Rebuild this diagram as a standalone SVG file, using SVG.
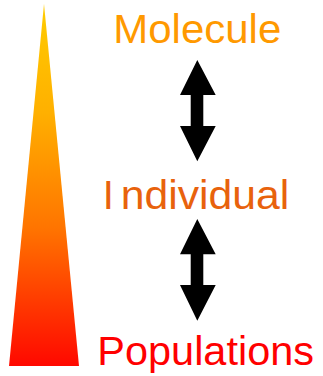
<svg xmlns="http://www.w3.org/2000/svg" width="323" height="376" viewBox="0 0 323 376">
<defs>
<linearGradient id="g" x1="0" y1="4" x2="0" y2="366" gradientUnits="userSpaceOnUse">
<stop offset="0" stop-color="#FFCC00"/>
<stop offset="0.3" stop-color="#FFB000"/>
<stop offset="0.62" stop-color="#FF7400"/>
<stop offset="1" stop-color="#FF0800"/>
</linearGradient>
<style>
.t{font-family:"Liberation Sans",Arial,sans-serif;font-size:40px}
.arr{fill:#000}
</style>
</defs>
<g id="scale">
<polygon points="44,4 79,366 9,366" fill="url(#g)"/>
</g>
<g id="molecule">
<text class="t" x="113.3" y="42.5" fill="#FF9900" textLength="168" lengthAdjust="spacingAndGlyphs">Molecule</text>
</g>
<g id="individual">
<text class="t" x="102.7" y="209.3" fill="#E8620C">I<tspan x="120.7" textLength="168.6" lengthAdjust="spacingAndGlyphs">ndividual</tspan></text>
</g>
<g id="populations">
<text class="t" x="97.3" y="365" fill="#FF0000" textLength="216.7" lengthAdjust="spacingAndGlyphs">Populations</text>
</g>
<g id="connectors">
<polygon class="arr" points="197.3,60 215.7,95 203.3,95 203.3,126 215.7,126 197.3,161.3 180,126 190.7,126 190.7,95 180,95"/>
<polygon class="arr" points="197.3,219 215.7,254.3 203.3,254.3 203.3,285 215.7,285 197.3,320.7 180,285 190.7,285 190.7,254.3 180,254.3"/>
</g>
</svg>
